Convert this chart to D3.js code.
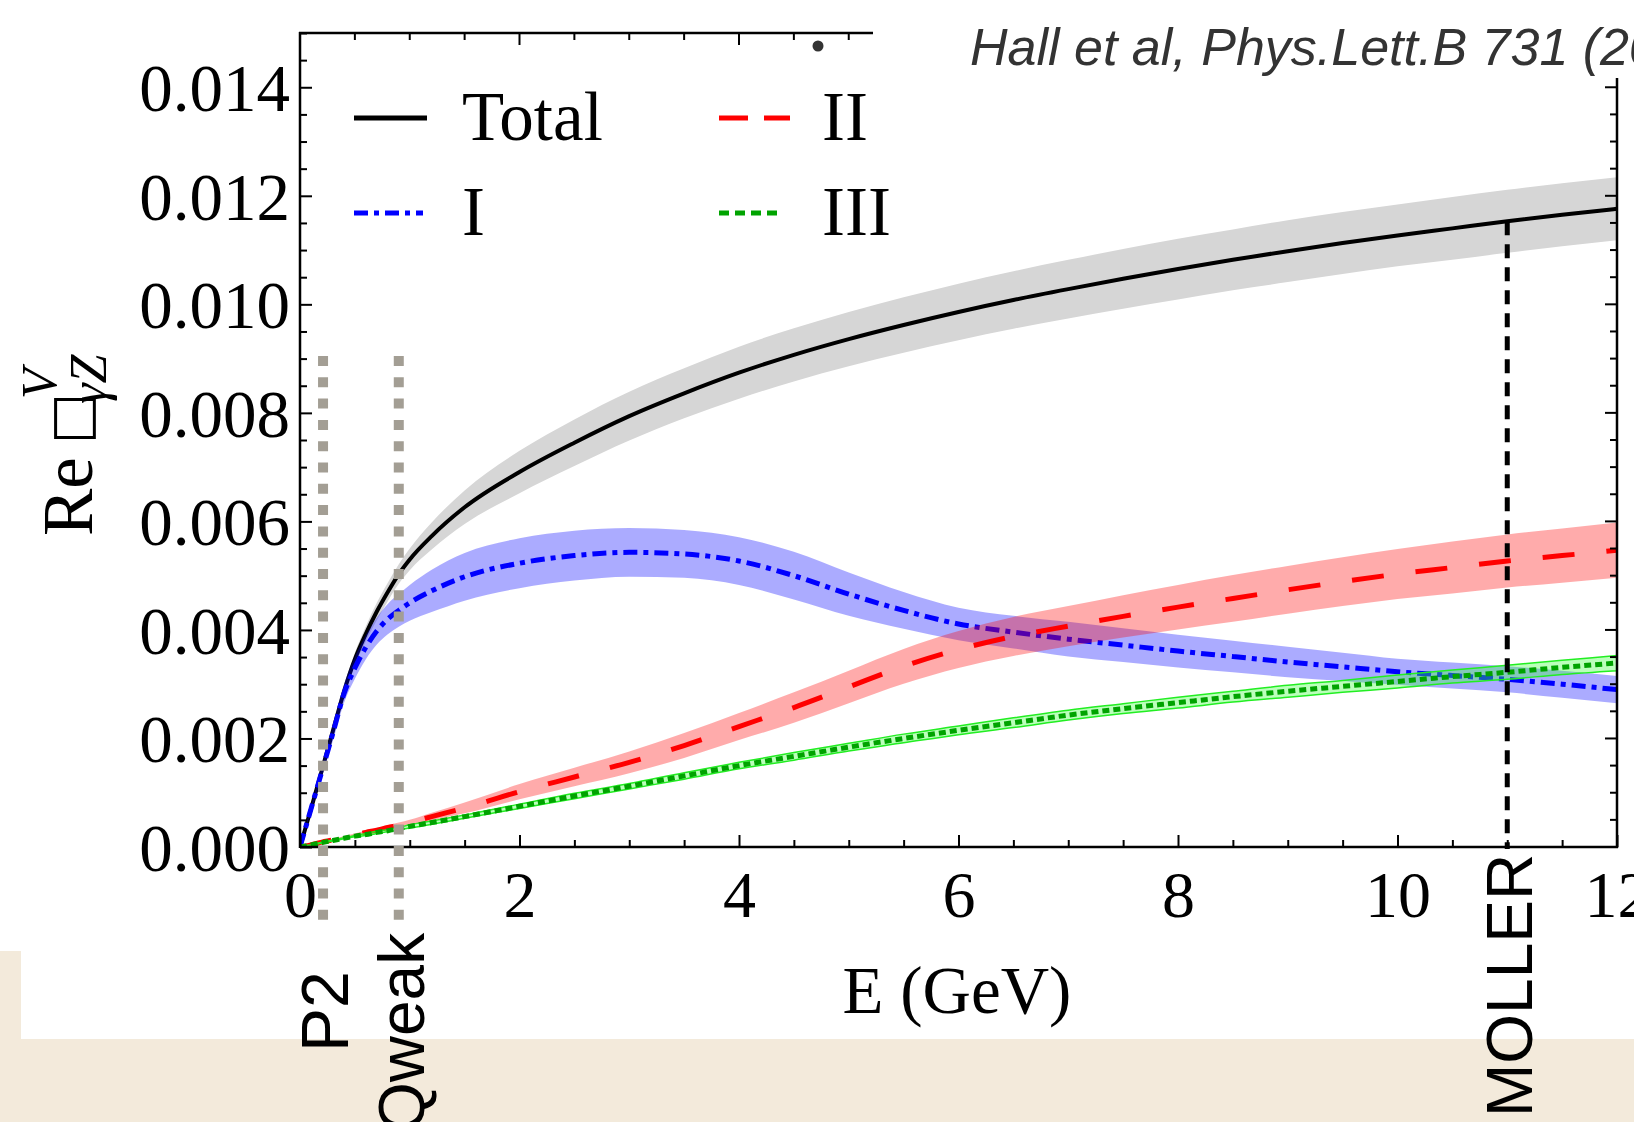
<!DOCTYPE html>
<html><head><meta charset="utf-8">
<script src="https://cdn.jsdelivr.net/npm/d3@7"></script>
<style>
html,body{margin:0;padding:0;background:#f3eadb;}
svg{display:block;}
</style></head><body>
<svg id="chart" width="1634" height="1122"></svg>
<script>
// ---------------- data ----------------
const energies = [0, 0.1, 0.2, 0.3, 0.4, 0.5, 0.6, 0.7, 0.8, 0.9, 1.0, 1.2, 1.5, 2, 2.5, 3, 3.5, 4, 4.5, 5, 5.5, 6, 6.5, 7, 7.5, 8, 8.5, 9, 9.5, 10, 10.5, 11, 11.5, 12];

const totalValues = [0, 0.0007, 0.00142, 0.00214, 0.00286, 0.00346, 0.00393, 0.00434, 0.0047, 0.00503, 0.0053, 0.00573, 0.00626, 0.00691, 0.00745, 0.00794, 0.00836, 0.00874, 0.00907, 0.00936, 0.00962, 0.00986, 0.01008, 0.01028, 0.01047, 0.01065, 0.01082, 0.01098, 0.01113, 0.01127, 0.0114, 0.01153, 0.01165, 0.01176];
const totalErr = [0, 0.00002, 0.00005, 0.00008, 0.0001, 0.00012, 0.00014, 0.00016, 0.00017, 0.00018, 0.0002, 0.00025, 0.00031, 0.00039, 0.00043, 0.00045, 0.00046, 0.00048, 0.00049, 0.0005, 0.00051, 0.00052, 0.00053, 0.00054, 0.00055, 0.00056, 0.00056, 0.00057, 0.00057, 0.00057, 0.00058, 0.00058, 0.00058, 0.00058];

const partIValues = [0, 0.0007, 0.0014, 0.0021, 0.00282, 0.0033, 0.00368, 0.00398, 0.0042, 0.00436, 0.0045, 0.00472, 0.00498, 0.00523, 0.00537, 0.00543, 0.0054, 0.00527, 0.005, 0.00466, 0.00436, 0.00411, 0.00396, 0.00383, 0.00372, 0.00361, 0.00351, 0.00341, 0.00332, 0.00323, 0.00316, 0.00309, 0.003, 0.0029];
const partIErr = [0, 0.00005, 0.0001, 0.00014, 0.00017, 0.0002, 0.00022, 0.00025, 0.00028, 0.0003, 0.00033, 0.00039, 0.00044, 0.00046, 0.00046, 0.00045, 0.00044, 0.00044, 0.00044, 0.0004, 0.00034, 0.0003, 0.0003, 0.00032, 0.00031, 0.0003, 0.00029, 0.00028, 0.00026, 0.00024, 0.00024, 0.00024, 0.00025, 0.00025];

const partIIValues = [0, 0.00004, 0.00009, 0.00013, 0.00018, 0.00022, 0.00027, 0.00031, 0.00036, 0.0004, 0.00045, 0.00056, 0.00072, 0.00102, 0.00129, 0.00156, 0.00187, 0.00222, 0.00257, 0.00295, 0.00333, 0.00364, 0.00388, 0.00407, 0.00425, 0.00442, 0.00458, 0.00474, 0.00489, 0.00503, 0.00515, 0.00527, 0.00537, 0.00547];
const partIIErr = [0, 0.00001, 0.00001, 0.00002, 0.00002, 0.00003, 0.00003, 0.00004, 0.00004, 0.00005, 0.00005, 0.00007, 0.0001, 0.00014, 0.00017, 0.0002, 0.00023, 0.00025, 0.00028, 0.0003, 0.00032, 0.00034, 0.00036, 0.00037, 0.00039, 0.00041, 0.00043, 0.00044, 0.00045, 0.00046, 0.00048, 0.00049, 0.0005, 0.00051];

const partIIIValues = [0, 0.00004, 0.00008, 0.00012, 0.00016, 0.0002, 0.00023, 0.00027, 0.0003, 0.00034, 0.00038, 0.00045, 0.00056, 0.00075, 0.00094, 0.00112, 0.00131, 0.0015, 0.00167, 0.00184, 0.002, 0.00215, 0.00229, 0.00243, 0.00255, 0.00266, 0.00277, 0.00287, 0.00296, 0.00305, 0.00314, 0.00322, 0.00331, 0.00339];
const partIIIErr = [0, 0, 0.00001, 0.00001, 0.00001, 0.00001, 0.00002, 0.00002, 0.00002, 0.00002, 0.00003, 0.00003, 0.00003, 0.00004, 0.00005, 0.00005, 0.00006, 0.00006, 0.00007, 0.00007, 0.00008, 0.00008, 0.00009, 0.00009, 0.00009, 0.0001, 0.0001, 0.00011, 0.00011, 0.00012, 0.00012, 0.00013, 0.00013, 0.00014];

const seriesNames = ["Total", "I", "II", "III"];
const xTickValues = [0, 2, 4, 6, 8, 10, 12];
const xTickLabels = ["0", "2", "4", "6", "8", "10", "12"];
const yTickValues = [0, 0.002, 0.004, 0.006, 0.008, 0.010, 0.012, 0.014];
const yTickLabels = ["0.000", "0.002", "0.004", "0.006", "0.008", "0.010", "0.012", "0.014"];
const markerNames = ["P2", "Qweak", "MOLLER"];
const markerEnergies = [0.21, 0.9, 11.0];
const citation = "Hall et al, Phys.Lett.B 731 (2014)";

// ---------------- layout ----------------
const W = 1634, H = 1122;
const M = {left: 300, right: 1617, top: 33, bottom: 847};
const SERIF = "'Liberation Serif','Times New Roman',Times,serif";
const SANS = "'Liberation Sans',Arial,Helvetica,sans-serif";

const svg = d3.select("#chart");
const x = d3.scaleLinear().domain([0, 12]).range([M.left, M.right]);
const y = d3.scaleLinear().domain([0, 0.015]).range([M.bottom, M.top]);

// slide-like background
svg.append("rect").attr("width", W).attr("height", H).attr("fill", "#f3eadb");
svg.append("rect").attr("x", 0).attr("y", 0).attr("width", W).attr("height", 951).attr("fill", "#ffffff");
svg.append("rect").attr("x", 21).attr("y", 951).attr("width", W - 21).attr("height", 88).attr("fill", "#ffffff");

svg.append("defs").append("clipPath").attr("id", "plotclip")
  .append("rect").attr("x", M.left).attr("y", M.top)
  .attr("width", M.right - M.left).attr("height", M.bottom - M.top);

const series = [
  {vals: totalValues, err: totalErr, band: "#d6d6d6", bandStroke: "none", color: "#000000", dash: null, width: 4},
  {vals: partIValues, err: partIErr, band: "rgba(0,0,255,0.33)", bandStroke: "none", color: "#0000ff", dash: "14,6,5,6", width: 5},
  {vals: partIIValues, err: partIIErr, band: "rgba(255,0,0,0.33)", bandStroke: "none", color: "#ff0000", dash: "32,32", width: 5},
  {vals: partIIIValues, err: partIIIErr, band: "rgba(60,255,60,0.35)", bandStroke: "#22ee22", color: "#00a300", dash: "7,4", width: 5}
];

const plot = svg.append("g").attr("clip-path", "url(#plotclip)");
series.forEach(s => {
  const pts = energies.map((e, i) => ({e: e, v: s.vals[i], d: s.err[i]}));
  const area = d3.area().x(d => x(d.e)).y0(d => y(d.v - d.d)).y1(d => y(d.v + d.d)).curve(d3.curveMonotoneX);
  plot.append("path").datum(pts).attr("d", area)
    .attr("fill", s.band).attr("stroke", s.bandStroke).attr("stroke-width", 1.5);
  const line = d3.line().x(d => x(d.e)).y(d => y(d.v)).curve(d3.curveMonotoneX);
  plot.append("path").datum(pts).attr("d", line).attr("fill", "none")
    .attr("stroke", s.color).attr("stroke-width", s.width)
    .attr("stroke-dasharray", s.dash);
});

// ---------------- axes ----------------
const xMinor = d3.range(0, 12.001, 0.5).filter(v => Math.abs(v / 2 - Math.round(v / 2)) > 1e-6);
const yMinor = d3.range(0, 0.01501, 0.0005).filter(v => Math.abs(v / 0.002 - Math.round(v / 0.002)) > 1e-6);

const gxMinor = svg.append("g").attr("transform", `translate(0,${M.bottom})`)
  .call(d3.axisBottom(x).tickValues(xMinor).tickFormat("").tickSizeInner(-7).tickSizeOuter(0));
const gx = svg.append("g").attr("transform", `translate(0,${M.bottom})`)
  .call(d3.axisBottom(x).tickValues(xTickValues).tickFormat((d, i) => xTickLabels[i]).tickSizeInner(-12).tickSizeOuter(0).tickPadding(0));
gx.selectAll("text").attr("y", 70).attr("dy", 0)
  .style("font-family", SERIF).style("font-size", "66px").attr("fill", "#000");

const gyMinor = svg.append("g").attr("transform", `translate(${M.left},0)`)
  .call(d3.axisLeft(y).tickValues(yMinor).tickFormat("").tickSizeInner(-7).tickSizeOuter(0));
const gy = svg.append("g").attr("transform", `translate(${M.left},0)`)
  .call(d3.axisLeft(y).tickValues(yTickValues).tickFormat((d, i) => yTickLabels[i]).tickSizeInner(-12).tickSizeOuter(0).tickPadding(10));
gy.selectAll("text").attr("dy", "0.35em")
  .style("font-family", SERIF).style("font-size", "67px").attr("fill", "#000");

[gxMinor, gx, gyMinor, gy].forEach(g => {
  g.select(".domain").remove();
  g.selectAll("line").attr("stroke", "#000").attr("stroke-width", 2);
});

// top ticks (only the visible part of the top frame)
const topEnd = 873;
const topTicks = d3.range(0.5, 12.001, 0.5).filter(v => x(v) < topEnd);
svg.append("g").selectAll("line").data(topTicks).join("line")
  .attr("x1", d => x(d)).attr("x2", d => x(d))
  .attr("y1", M.top).attr("y2", d => M.top + (Math.abs(d / 2 - Math.round(d / 2)) < 1e-6 ? 12 : 7))
  .attr("stroke", "#000").attr("stroke-width", 2);

// right ticks (below the citation)
const rightTop = 78;
const rightTicks = d3.range(0.0005, 0.01501, 0.0005).filter(v => y(v) > rightTop);
svg.append("g").selectAll("line").data(rightTicks).join("line")
  .attr("y1", d => y(d)).attr("y2", d => y(d))
  .attr("x1", M.right).attr("x2", d => M.right - (Math.abs(d / 0.002 - Math.round(d / 0.002)) < 1e-6 ? 12 : 7))
  .attr("stroke", "#000").attr("stroke-width", 2);

// frame
const frame = svg.append("g").attr("stroke", "#000").attr("stroke-width", 2.5).attr("fill", "none");
frame.append("line").attr("x1", M.left).attr("x2", M.left).attr("y1", M.top - 1).attr("y2", M.bottom + 1);
frame.append("line").attr("x1", M.left).attr("x2", M.right + 1).attr("y1", M.bottom).attr("y2", M.bottom);
frame.append("line").attr("x1", M.left - 1).attr("x2", topEnd).attr("y1", M.top).attr("y2", M.top);
frame.append("line").attr("x1", M.right).attr("x2", M.right).attr("y1", rightTop).attr("y2", M.bottom + 1);

// stray dot near the top frame
svg.append("circle").attr("cx", 818).attr("cy", 46).attr("r", 5.5).attr("fill", "#333");

// ---------------- experiment markers ----------------
const markerG = svg.append("g");
[0, 1].forEach(i => {
  markerG.append("line").attr("x1", x(markerEnergies[i])).attr("x2", x(markerEnergies[i]))
    .attr("y1", 356).attr("y2", 922)
    .attr("stroke", "#a39e94").attr("stroke-width", 10).attr("stroke-dasharray", "10,11.3");
});
const iMoller = energies.indexOf(11);
markerG.append("line").attr("x1", x(markerEnergies[2])).attr("x2", x(markerEnergies[2]))
  .attr("y1", y(totalValues[iMoller])).attr("y2", M.bottom + 2)
  .attr("stroke", "#000").attr("stroke-width", 5).attr("stroke-dasharray", "14,9");

const labelStarts = [1052, 1132, 1117];
const labelSizes = [66, 64, 64];
markerNames.forEach((n, i) => {
  svg.append("text")
    .attr("transform", `translate(${x(markerEnergies[i]) + 25},${labelStarts[i]}) rotate(-90)`)
    .attr("text-anchor", "start")
    .style("font-family", SANS).style("font-size", labelSizes[i] + "px").attr("fill", "#000")
    .text(n);
});

// ---------------- legend ----------------
const legendItems = [
  {name: seriesNames[0], lx: 354, lw: 73, ly: 118, tx: 462, color: "#000", dash: null},
  {name: seriesNames[1], lx: 354, lw: 69, ly: 213, tx: 462, color: "#0000ff", dash: "14,6,5,6"},
  {name: seriesNames[2], lx: 719, lw: 71, ly: 118, tx: 822, color: "#ff0000", dash: "29,16"},
  {name: seriesNames[3], lx: 719, lw: 63, ly: 213, tx: 822, color: "#00a300", dash: "10,6"}
];
const leg = svg.append("g");
legendItems.forEach(it => {
  leg.append("line").attr("x1", it.lx).attr("x2", it.lx + it.lw).attr("y1", it.ly).attr("y2", it.ly)
    .attr("stroke", it.color).attr("stroke-width", 5).attr("stroke-dasharray", it.dash);
  leg.append("text").attr("x", it.tx).attr("y", it.ly + 22)
    .style("font-family", SERIF).style("font-size", "69px").attr("fill", "#000").text(it.name);
});

// ---------------- axis titles ----------------
svg.append("text").attr("x", 957).attr("y", 1013).attr("text-anchor", "middle")
  .style("font-family", SERIF).style("font-size", "67px").attr("fill", "#000").text("E (GeV)");

const yl = svg.append("g").attr("transform", "translate(92,441) rotate(-90)")
  .style("font-family", SERIF).attr("fill", "#000");
yl.append("text").attr("x", -95).attr("y", 0).style("font-size", "71px").text("Re");
yl.append("text").attr("x", -3).attr("y", -3).style("font-size", "54px")
  .style("font-family", "'DejaVu Sans',sans-serif").text("□");
yl.append("text").attr("x", 42).attr("y", -36).style("font-size", "50px").style("font-style", "italic").text("V");
yl.append("text").attr("x", 37).attr("y", 14).style("font-size", "52px").style("font-style", "italic").text("γZ");

// ---------------- citation ----------------
svg.append("text").attr("x", 970).attr("y", 65)
  .style("font-family", SANS).style("font-size", "52px").style("font-style", "italic")
  .attr("fill", "#333").text(citation);
</script>
</body></html>
